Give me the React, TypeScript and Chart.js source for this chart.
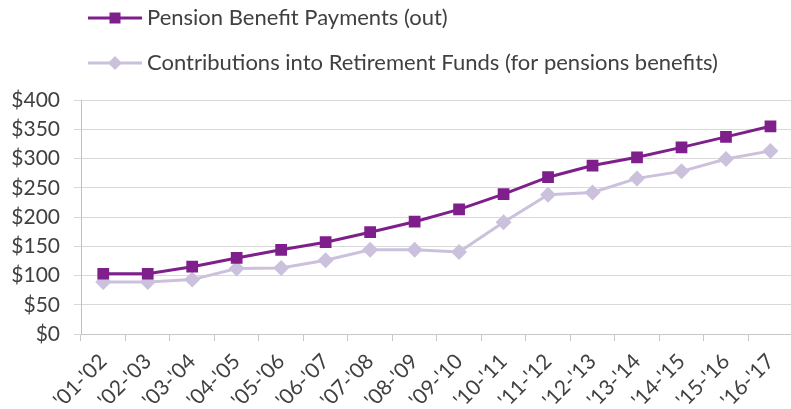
import React, { useEffect, useRef } from "react";
import { Chart, registerables } from "chart.js";

Chart.register(...registerables);

const categories = ["'01-'02", "'02-'03", "'03-'04", "'04-'05", "'05-'06", "'06-'07", "'07-'08", "'08-'09", "'09-'10", "'10-'11", "'11-'12", "'12-'13", "'13-'14", "'14-'15", "'15-'16", "'16-'17"];
const pensionPayments = [103, 103, 115, 130, 144, 157, 174, 192, 213, 239, 268, 288, 302, 319, 337, 355];
const contributions = [89, 89, 93, 112, 113, 126, 144, 144, 140, 191, 238, 242, 266, 278, 299, 313];
const seriesNames = ["Pension Benefit Payments (out)", "Contributions into Retirement Funds (for pensions benefits)"];

const PURPLE = "#7f1f8b";
const LAVENDER = "#cbc1dc";
const TEXT = "#404040";
const FONT = "Lato, 'Open Sans', sans-serif";

const legendPlugin = {
  id: "customLegend",
  afterDraw(chart: any) {
    const ctx = chart.ctx;
    const rows = [
      { y: 18, color: PURPLE, shape: "square", label: seriesNames[0] },
      { y: 63, color: LAVENDER, shape: "diamond", label: seriesNames[1] },
    ];
    ctx.save();
    rows.forEach((r) => {
      ctx.strokeStyle = r.color;
      ctx.lineWidth = 3;
      ctx.beginPath();
      ctx.moveTo(88, r.y);
      ctx.lineTo(142, r.y);
      ctx.stroke();
      ctx.fillStyle = r.color;
      ctx.beginPath();
      if (r.shape === "square") {
        ctx.rect(109.5, r.y - 5.5, 11, 11);
      } else {
        ctx.moveTo(115, r.y - 7);
        ctx.lineTo(122, r.y);
        ctx.lineTo(115, r.y + 7);
        ctx.lineTo(108, r.y);
        ctx.closePath();
      }
      ctx.fill();
      ctx.fillStyle = TEXT;
      ctx.font = `22px ${FONT}`;
      ctx.textAlign = "left";
      ctx.textBaseline = "middle";
      ctx.fillText(r.label, 147, r.y);
    });
    ctx.restore();
  },
};

export default function App() {
  const canvasRef = useRef<HTMLCanvasElement | null>(null);

  useEffect(() => {
    document.body.style.margin = "0";
    document.body.style.overflow = "hidden";
    const canvas = canvasRef.current;
    if (!canvas) return;
    const chart = new Chart(canvas, {
      type: "line",
      data: {
        labels: categories,
        datasets: [
          {
            label: seriesNames[0],
            data: pensionPayments,
            borderColor: PURPLE,
            backgroundColor: PURPLE,
            borderWidth: 3,
            pointStyle: "rect",
            pointRadius: 8.3,
            pointHoverRadius: 8.3,
            pointBorderWidth: 0,
            tension: 0,
          },
          {
            label: seriesNames[1],
            data: contributions,
            borderColor: LAVENDER,
            backgroundColor: LAVENDER,
            borderWidth: 3,
            pointStyle: "rectRot",
            pointRadius: 8,
            pointHoverRadius: 8,
            pointBorderWidth: 0,
            tension: 0,
          },
        ],
      },
      options: {
        animation: false,
        responsive: false,
        maintainAspectRatio: false,
        layout: { padding: { top: 100, right: 0, left: 0, bottom: 0 } },
        plugins: {
          legend: { display: false },
          tooltip: { enabled: false },
          title: { display: false },
        },
        scales: {
          x: {
            type: "category",
            offset: true,
            grid: {
              offset: true,
              drawOnChartArea: false,
              drawTicks: true,
              tickLength: 7,
              color: "#c8c8c8",
            },
            border: { display: true, color: "#c8c8c8", width: 1 },
            ticks: {
              minRotation: 45,
              maxRotation: 45,
              autoSkip: false,
              padding: 8,
              color: TEXT,
              font: { family: FONT, size: 21 },
            },
            afterFit(scale: any) {
              scale.height = 75;
            },
          },
          y: {
            min: 0,
            max: 400,
            ticks: {
              stepSize: 50,
              padding: 14,
              color: TEXT,
              font: { family: FONT, size: 21 },
              callback: (v: any) => "$" + v,
            },
            grid: {
              color: "#d9d9d9",
              lineWidth: 1,
              tickLength: 7,
              drawTicks: true,
            },
            border: { display: true, color: "#c0c0c0", width: 1 },
            afterFit(scale: any) {
              scale.width = 81;
            },
          },
        },
      },
      plugins: [legendPlugin],
    });
    return () => chart.destroy();
  }, []);

  return (
    <div style={{ width: 791, height: 409, overflow: "hidden", position: "relative", background: "#fff" }}>
      <canvas ref={canvasRef} width={801} height={409} style={{ display: "block", width: 801, height: 409 }} />
    </div>
  );
}
